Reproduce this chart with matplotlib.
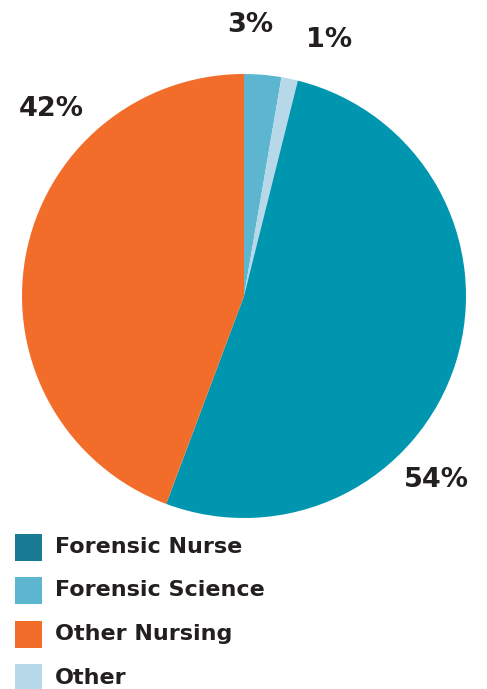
import numpy as np
import matplotlib
matplotlib.use("Agg")
from matplotlib import pyplot as plt
from matplotlib.patches import Rectangle

# slice order, clockwise from 12 o'clock
slices = ["Forensic Science", "Other", "Forensic Nurse", "Other Nursing"]
shares = [2.7, 1.2, 51.8, 44.3]          # as drawn
labels = ["3%", "1%", "54%", "42%"]      # as printed
pie_colors = ["#5cb6cf", "#b6d8e8", "#0096b0", "#f26d2a"]

legend_names = ["Forensic Nurse", "Forensic Science", "Other Nursing", "Other"]
legend_colors = ["#1a7b97", "#5cb6cf", "#f26d2a", "#b6d8e8"]

ink = "#231f20"
fam = ["DejaVu Sans"]

fig = plt.figure(figsize=(4.87, 6.89), dpi=100)
W, H = 487, 689

# pie axes placed in pixel terms
cx, cy, r = 244, 296, 222
ax = fig.add_axes([(cx - r) / W, (H - cy - r) / H, 2 * r / W, 2 * r / H])
wedges, _ = ax.pie(shares, colors=pie_colors, startangle=90, counterclock=False,
                   radius=1.0, wedgeprops=dict(linewidth=0))
ax.set_xlim(-1, 1)
ax.set_ylim(-1, 1)
ax.set_aspect("equal")
ax.axis("off")

# label angle (deg) and distance (in radii) for each slice
label_pos = [(88.7, 1.22), (71.6, 1.215), (-43.8, 1.20), (136.0, 1.21)]
for lab, (ang, d) in zip(labels, label_pos):
    a = np.deg2rad(ang)
    ax.text(d * np.cos(a), d * np.sin(a), lab, ha="center", va="center",
            fontsize=19.5, fontweight="bold", color=ink, family=fam, clip_on=False)

# legend
lax = fig.add_axes([0, 0, 1, 1])
lax.set_xlim(0, W)
lax.set_ylim(H, 0)
lax.axis("off")
for i, (name, col) in enumerate(zip(legend_names, legend_colors)):
    yc = 547 + i * 43.5
    lax.add_patch(Rectangle((15, yc - 13.5), 27, 27, facecolor=col, edgecolor="none"))
    lax.text(55, yc, name, ha="left", va="center", fontsize=16,
             fontweight="bold", color=ink, family=fam)

fig.savefig("out.png", dpi=100)
